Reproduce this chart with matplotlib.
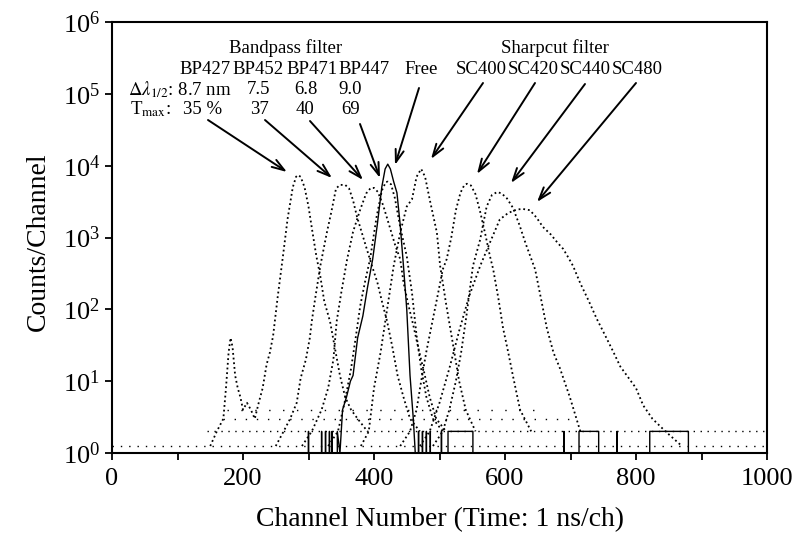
import matplotlib
matplotlib.use("Agg")
import matplotlib.pyplot as plt
from matplotlib.ticker import NullLocator

plt.rcParams['font.family'] = ['Liberation Serif', 'DejaVu Serif']
plt.rcParams['mathtext.fontset'] = 'stix'

# --- spectra (channel, counts/channel) ---
bp427_ch = [150, 160, 170, 174, 178, 181, 184, 188, 192, 196, 200, 206, 212, 218, 224, 230, 236, 241, 246, 253,
            261, 268, 276, 281, 284, 288, 294, 300, 306, 312, 318, 324, 333, 340, 348, 356, 365, 375, 390]
bp427_counts = [1.25, 2, 3, 8, 25, 40, 30, 12, 8, 6, 4, 5, 4, 3, 5, 8, 17, 25, 43, 150,
                550, 1800, 5000, 7000, 7400, 7000, 5000, 2700, 1200, 550, 290, 130, 67, 30, 12, 6, 4, 3, 2]

bp452_ch = [250, 262, 272, 282, 288, 296, 302, 305, 310, 318, 328, 335, 342, 348, 356, 362, 368, 374, 381, 389,
            397, 405, 412, 420, 428, 436, 445, 455, 470]
bp452_counts = [1.25, 2, 3, 5, 11, 20, 40, 68, 138, 400, 1170, 2300, 4800, 5400, 5400, 4800, 3300, 1950, 1200, 690,
                400, 240, 130, 68, 30, 12, 6, 3, 2]

bp471_ch = [290, 305, 320, 330, 338, 343, 350, 359, 368, 379, 388, 395, 400, 406, 414, 424, 432, 440, 445, 452,
            460, 468, 476, 485, 495, 510]
bp471_counts = [1.25, 2, 4, 8, 20, 68, 170, 500, 1200, 2450, 4100, 4900, 4900, 4300, 2800, 1400, 800, 500, 240, 120,
                60, 28, 14, 6, 3, 2]

bp447_ch = [330, 345, 355, 365, 372, 379, 387, 394, 404, 412, 418, 421, 426, 432, 440, 450, 458, 465, 472, 480,
            490, 505]
bp447_counts = [1.25, 2, 5, 15, 40, 112, 260, 500, 1950, 4500, 5900, 6000, 5500, 3500, 1400, 550, 170, 43, 15, 6,
                3, 2]

sc400_ch = [380, 392, 400, 410, 420, 430, 440, 450, 458, 465, 472, 478, 485, 496, 501, 510, 520, 530, 540, 555]
sc400_counts = [1.25, 2, 8, 25, 100, 400, 1170, 2700, 3400, 7000, 9000, 7000, 3400, 1170, 400, 120, 35, 10, 4, 2]

sc420_ch = [440, 455, 465, 472, 480, 490, 498, 505, 511, 518, 525, 532, 538, 542, 548, 555, 562, 570, 577, 582,
            590, 597, 605, 612, 623, 640]
sc420_counts = [1.25, 2, 4, 10, 26, 74, 170, 360, 500, 1000, 2400, 4200, 5400, 5600, 5300, 4000, 2300, 1100, 550, 360,
                140, 55, 25, 12, 4, 2]

sc440_ch = [490, 505, 515, 525, 533, 541, 551, 562, 572, 580, 588, 595, 603, 612, 622, 632, 646, 655, 664, 674,
            684, 699, 715]
sc440_counts = [1.25, 2, 4, 10, 25, 80, 400, 930, 2700, 3900, 4300, 4100, 3500, 2600, 1500, 800, 360, 140, 54, 25,
                15, 6, 2]

sc480_ch = [470, 485, 500, 515, 530, 545, 562, 577, 592, 605, 618, 627, 638, 648, 658, 670, 680, 689, 697, 704,
            715, 728, 740, 752, 765, 776, 786, 800, 811, 825, 845, 870]
sc480_counts = [1.25, 2, 5, 15, 50, 150, 400, 850, 1780, 2200, 2450, 2500, 2400, 1900, 1400, 1100, 850, 690, 520, 400,
                230, 130, 74, 45, 26, 16, 12, 8, 4.6, 3, 2, 1.25]

# free (no filter), solid line; zero counts fall to the axis
free_ch = [0, 298, 300, 302, 318, 320, 322, 326, 328, 332, 334, 336, 340, 344, 348, 352, 358, 364, 368, 375,
           383, 390, 398, 405, 412, 417, 421, 425, 430, 435, 440, 445, 450, 455, 460, 463, 466, 468, 470, 474,
           476, 480, 482, 486, 488, 500, 503, 505, 511, 513, 551, 553, 689, 690, 692, 712, 713, 743, 745, 770,
           771, 773, 819, 821, 880, 882, 1000]
free_counts = [0, 0, 2, 0, 0, 2, 0, 2, 0, 2, 0, 2, 0, 2, 1, 4, 6, 10, 12, 40,
               81, 200, 500, 1500, 5100, 9000, 10500, 9000, 6000, 4200, 1500, 400, 100, 12, 3, 1, 0, 2, 0, 2,
               0, 2, 0, 2, 0, 0, 2, 0, 0, 2, 2, 0, 0, 2, 0, 0, 2, 2, 0, 0,
               2, 0, 0, 2, 2, 0, 0]

# background rows of single counts
bg1_ch = [0, 1000]
bg1_counts = [1.25, 1.25]
bg2_ch = [145, 1000]
bg2_counts = [2, 2]
bg3_ch = [170, 700]
bg3_counts = [3, 3]
bg4_ch = [175, 650]
bg4_counts = [4, 4]

spectra = [(bp427_ch, bp427_counts), (bp452_ch, bp452_counts), (bp471_ch, bp471_counts),
           (bp447_ch, bp447_counts), (sc400_ch, sc400_counts), (sc420_ch, sc420_counts),
           (sc440_ch, sc440_counts), (sc480_ch, sc480_counts)]

fig = plt.figure(figsize=(7.98, 5.37), dpi=100)
ax = fig.add_axes([112 / 798, 84 / 537, 655 / 798, 431 / 537])
ax.set_yscale('log', nonpositive='clip')

ax.plot(bg1_ch, bg1_counts, color='black', lw=1.0, ls=(0, (1, 5)))
ax.plot(bg2_ch, bg2_counts, color='black', lw=1.0, ls=(0, (1, 4)))
ax.plot(bg3_ch, bg3_counts, color='black', lw=1.0, ls=(0, (1, 7)))
ax.plot(bg4_ch, bg4_counts, color='black', lw=1.0, ls=(0, (1, 9)))
for ch, counts in spectra:
    ax.plot(ch, counts, color='black', lw=1.3, ls=(0, (1, 1.6)))
ax.plot(free_ch, free_counts, color='black', lw=1.0)

ax.set_xlim(0, 1000)
ax.set_ylim(1, 1e6)
ax.set_xticks(range(0, 1001, 200))
ax.set_xticks(range(100, 1000, 200), minor=True)
ax.yaxis.set_minor_locator(NullLocator())
ax.tick_params(which='both', direction='out', length=5, width=1.3, labelsize=19, top=False, right=False)
ax.tick_params(axis='x', pad=6)
for s in ax.spines.values():
    s.set_linewidth(1.5)

fig.text(440 / 798, 1 - 520 / 537, 'Channel Number (Time: 1 ns/ch)', fontsize=20, ha='center', va='center')
fig.text(38 / 798, 1 - 242 / 537, 'Counts/Channel', fontsize=20, ha='center', va='center', rotation=90)

# annotations (figure pixels, origin at the bottom left)
H = 537
fs = 13.5
def ftext(px, py, s, ha='center'):
    fig.text(px / 798, 1 - py / H, s, fontsize=fs, ha=ha, va='center')

ftext(286, 48, 'Bandpass filter')
ftext(205, 70, 'BP427')
ftext(258, 70, 'BP452')
ftext(312, 70, 'BP471')
ftext(364, 70, 'BP447')
ftext(128, 90, r'$\Delta\lambda_{1/2}$: 8.7 nm', ha='left')
ftext(259, 90, '7.5')
ftext(306, 90, '6.8')
ftext(350, 90, '9.0')
ftext(130, 109, r'T$_{\mathrm{max}}$:', ha='left')
ftext(203, 109, '35 %')
ftext(259, 109, '37')
ftext(305, 109, '40')
ftext(351, 109, '69')
ftext(421, 70, 'Free')
ftext(555, 48, 'Sharpcut filter')
ftext(481, 70, 'SC400')
ftext(533, 70, 'SC420')
ftext(585, 70, 'SC440')
ftext(637, 70, 'SC480')

arrows = [((208, 120), (287, 172)), ((265, 120), (332, 178)), ((310, 121), (363, 180)),
          ((360, 124), (380, 178)), ((419, 88), (395, 165)), ((483, 83), (431, 159)),
          ((535, 83), (477, 174)), ((585, 84), (511, 183)), ((636, 83), (537, 202))]
for (x0, y0), (x1, y1) in arrows:
    ax.annotate('', xy=(x1, H - y1), xycoords='figure pixels',
                xytext=(x0, H - y0), textcoords='figure pixels',
                arrowprops=dict(arrowstyle='->,head_length=0.9,head_width=0.3', lw=1.4, color='black',
                                shrinkA=0, shrinkB=0))

fig.savefig('out.png', dpi=100)
